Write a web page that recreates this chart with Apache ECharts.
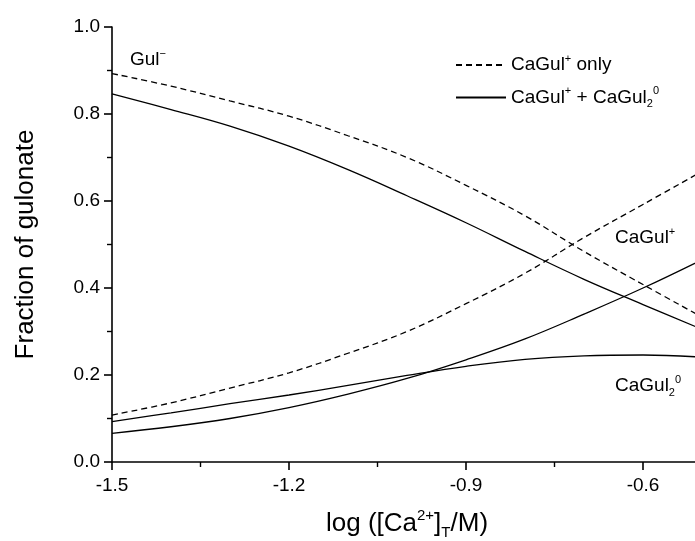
<!DOCTYPE html>
<html>
<head>
<meta charset="utf-8">
<title>Fraction of gulonate</title>
<script src="https://cdn.jsdelivr.net/npm/echarts@6/dist/echarts.min.js"></script>
<style>
  html, body { margin: 0; padding: 0; background: #fff; }
  #chart { width: 695px; height: 541px; }
</style>
</head>
<body>
<div id="chart"></div>
<script>
const logCa = [-1.5, -1.4, -1.3, -1.2, -1.1, -1.0, -0.9, -0.8, -0.7, -0.6, -0.5]
// dashed: CaGul+ only model
const gulOnly = [0.893, 0.864, 0.830, 0.795, 0.750, 0.700, 0.636, 0.566, 0.484, 0.408, 0.333]
const caGulOnly = [0.108, 0.136, 0.170, 0.205, 0.250, 0.300, 0.364, 0.434, 0.516, 0.592, 0.668]
// solid: CaGul+ + CaGul2 model
const gulBoth = [0.846, 0.810, 0.772, 0.726, 0.672, 0.612, 0.550, 0.484, 0.420, 0.362, 0.305]
const caGulBoth = [0.066, 0.081, 0.100, 0.125, 0.156, 0.192, 0.235, 0.283, 0.340, 0.400, 0.465]
const caGul2Both = [0.093, 0.113, 0.134, 0.154, 0.176, 0.199, 0.220, 0.236, 0.244, 0.246, 0.241]

const xTicks = { min: -1.5, max: -0.5, step: 0.3 }
const yTicks = { min: 0, max: 1, step: 0.2 }

const NAME_ONLY = 'CaGul+ only'
const NAME_BOTH = 'CaGul+ + CaGul2 0'

const FONT = '"Liberation Sans", Arial, sans-serif'

function pairs (ys) {
  return logCa.map((x, i) => [x, ys[i]])
}

// super / subscript styles
const richBase = {
  t: { fontSize: 19, fontFamily: FONT, color: '#000', lineHeight: 24 },
  sup: { fontSize: 11, fontFamily: FONT, color: '#000', lineHeight: 11, verticalAlign: 'top' },
  sub: { fontSize: 11, fontFamily: FONT, color: '#000', lineHeight: 11, verticalAlign: 'bottom' }
}

function lineSeries (name, ys, dashed) {
  return {
    name: name,
    type: 'line',
    data: pairs(ys),
    smooth: 0.4,
    symbol: 'none',
    lineStyle: { color: '#000', width: 1.3, type: dashed ? [6, 4] : 'solid' },
    itemStyle: { color: '#000' },
    emphasis: { disabled: true }
  }
}

const chart = echarts.init(document.getElementById('chart'))

chart.setOption({
  animation: false,
  backgroundColor: '#fff',
  textStyle: { fontFamily: FONT },
  grid: { left: 112, top: 27, width: 590, height: 435, containLabel: false, outerBoundsMode: 'none' },
  legend: {
    data: [NAME_ONLY, NAME_BOTH],
    orient: 'vertical',
    left: 450,
    top: 48,
    itemWidth: 50,
    itemHeight: 14,
    itemGap: 11,
    selectedMode: false,
    itemStyle: { color: 'transparent', borderWidth: 0 },
    formatter: function (name) {
      if (name === NAME_ONLY) return '{t|CaGul}{sup|+}{t| only}'
      return '{t|CaGul}{sup|+}{t| + CaGul}{sub|2}{sup|0}'
    },
    textStyle: { fontSize: 19, color: '#000', fontFamily: FONT, rich: richBase }
  },
  xAxis: {
    type: 'value',
    min: xTicks.min,
    max: xTicks.max,
    interval: xTicks.step,
    name: 'log ([Ca{sup|2+}]{sub|T}/M)',
    nameLocation: 'middle',
    nameGap: 46,
    nameTextStyle: {
      fontSize: 26,
      color: '#000',
      fontFamily: FONT,
      lineHeight: 32,
      rich: {
        sup: { fontSize: 15, fontFamily: FONT, color: '#000', lineHeight: 15, verticalAlign: 'top' },
        sub: { fontSize: 15, fontFamily: FONT, color: '#000', lineHeight: 15, verticalAlign: 'bottom' }
      }
    },
    axisLine: { onZero: false, lineStyle: { color: '#000', width: 1.6 } },
    axisTick: { inside: false, length: 8, lineStyle: { color: '#000', width: 1.6 } },
    minorTick: { show: true, splitNumber: 2, length: 5, lineStyle: { color: '#000', width: 1.4 } },
    axisLabel: {
      showMaxLabel: false,
      margin: 14,
      fontSize: 19,
      color: '#000',
      fontFamily: FONT,
      formatter: v => v.toFixed(1)
    },
    splitLine: { show: false }
  },
  yAxis: {
    type: 'value',
    min: yTicks.min,
    max: yTicks.max,
    interval: yTicks.step,
    name: 'Fraction of gulonate',
    nameLocation: 'middle',
    nameGap: 73,
    nameTextStyle: { fontSize: 26, color: '#000', fontFamily: FONT },
    axisLine: { show: true, onZero: false, lineStyle: { color: '#000', width: 1.6 } },
    axisTick: { show: true, inside: false, length: 8, lineStyle: { color: '#000', width: 1.6 } },
    minorTick: { show: true, splitNumber: 2, length: 5, lineStyle: { color: '#000', width: 1.4 } },
    axisLabel: {
      margin: 12,
      fontSize: 19,
      color: '#000',
      fontFamily: FONT,
      formatter: v => v.toFixed(1)
    },
    splitLine: { show: false }
  },
  series: [
    lineSeries(NAME_ONLY, gulOnly, true),
    lineSeries(NAME_ONLY, caGulOnly, true),
    lineSeries(NAME_BOTH, gulBoth, false),
    lineSeries(NAME_BOTH, caGulBoth, false),
    lineSeries(NAME_BOTH, caGul2Both, false)
  ],
  // curve labels
  graphic: [
    {
      type: 'text',
      left: 130,
      top: 48,
      style: { text: '{t|Gul}{sup|−}', rich: richBase }
    },
    {
      type: 'text',
      left: 615,
      top: 226,
      style: { text: '{t|CaGul}{sup|+}', rich: richBase }
    },
    {
      type: 'text',
      left: 615,
      top: 374,
      style: { text: '{t|CaGul}{sub|2}{sup|0}', rich: richBase }
    }
  ]
})
</script>
</body>
</html>
